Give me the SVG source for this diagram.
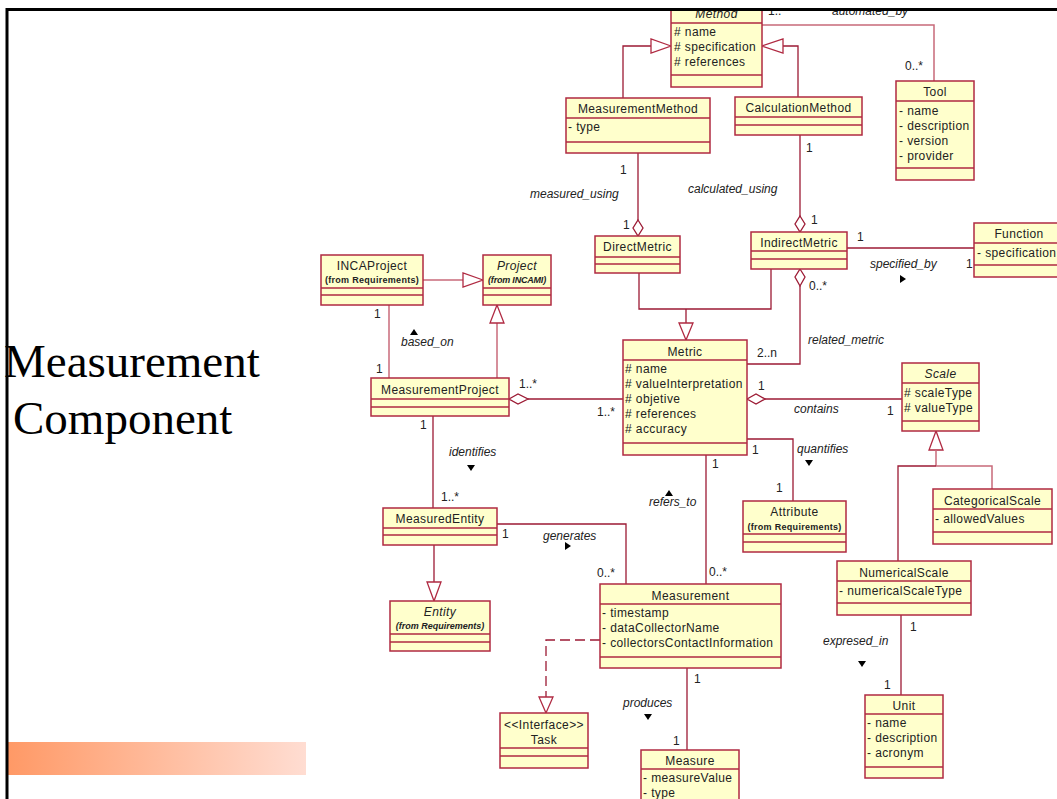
<svg xmlns="http://www.w3.org/2000/svg" width="1057" height="799" viewBox="0 0 1057 799">
  <style>
    .box { fill: #ffffcc; stroke: #b02a42; stroke-width: 1.5; }
    .sep { stroke: #b02a42; stroke-width: 1.5; fill: none; }
    .t { font-family: "Liberation Sans", Arial, sans-serif; font-size: 12px; fill: #222; letter-spacing: 0.4px; }
    .ttl { text-anchor: middle; }
    .it { font-style: italic; }
    .sm { font-size: 9px; font-weight: bold; letter-spacing: 0.3px; }
    .lbl { font-family: "Liberation Sans", Arial, sans-serif; font-size: 12px; font-style: italic; fill: #222; }
    .mul { font-family: "Liberation Sans", Arial, sans-serif; font-size: 12px; fill: #222; }
    .c { fill: none; stroke: #9c1a34; stroke-width: 1.3; }
    .c2 { fill: none; stroke: #c86a7a; stroke-width: 1.5; }
    .dash { stroke-dasharray: 10 5; }
    .gen { fill: #ffffff; stroke: #b02a42; stroke-width: 1.3; }
    .dia { fill: #ffffff; stroke: #9c1a34; stroke-width: 1.3; }
    .dir { fill: #000; }
    .big { font-family: "Liberation Serif", "Times New Roman", serif; font-size: 47px; fill: #000; }
  </style>
  <defs>
    <linearGradient id="bar" x1="0" y1="0" x2="1" y2="0">
      <stop offset="0" stop-color="#ff9966"/>
      <stop offset="1" stop-color="#ffddd2"/>
    </linearGradient>
    <clipPath id="page">
      <rect x="8" y="10" width="1049" height="789"/>
    </clipPath>
    <polygon id="down" points="-4,-3 4,-3 0,3"/>
    <polygon id="up" points="-4,3 4,3 0,-3"/>
    <polygon id="right" points="-3,-4 -3,4 3,0"/>
  </defs>

  <rect x="0" y="0" width="1057" height="799" fill="#ffffff"/>

  <!-- slide title and decoration -->
  <text class="big" x="4" y="377">Measurement</text>
  <text class="big" x="13" y="434">Component</text>
  <rect x="8" y="742" width="298" height="33" fill="url(#bar)"/>

  <g clip-path="url(#page)">
    <!-- connectors -->
    <g id="connectors">
      <!-- automated_by -->
      <path class="c2" d="M762,25 H934 V81"/>
      <text class="mul" x="768" y="15">1..*</text>
      <text class="lbl" x="832" y="15">automated_by</text>
      <text class="mul" x="905" y="70">0..*</text>

      <!-- MeasurementMethod / CalculationMethod generalize Method -->
      <path class="c" d="M623,98 V46 H651"/>
      <polygon class="gen" points="671,46 651,39 651,53"/>
      <path class="c" d="M798,97 V46 H783"/>
      <polygon class="gen" points="762,46 783,39 783,53"/>

      <!-- measured_using -->
      <path class="c" d="M638,153 V220"/>
      <polygon class="dia" points="638,220 643,228 638,236 633,228"/>
      <text class="mul" x="620" y="174">1</text>
      <text class="mul" x="623" y="229">1</text>
      <text class="lbl" x="530" y="198">measured_using</text>

      <!-- calculated_using -->
      <path class="c" d="M800,135 V217"/>
      <polygon class="dia" points="800,216 805,224 800,232 795,224"/>
      <text class="mul" x="806" y="152">1</text>
      <text class="mul" x="811" y="224">1</text>
      <text class="lbl" x="688" y="193">calculated_using</text>

      <!-- specified_by -->
      <path class="c" d="M847,248 H974"/>
      <text class="mul" x="857" y="241">1</text>
      <text class="mul" x="966" y="268">1</text>
      <text class="lbl" x="870" y="268">specified_by</text>
      <use href="#right" class="dir" x="903" y="279"/>

      <!-- DirectMetric / IndirectMetric generalize Metric -->
      <path class="c" d="M639,273 V309 H771 V269"/>
      <path class="c" d="M686,309 V323"/>
      <polygon class="gen" points="686,340 679,323 693,323"/>

      <!-- related_metric -->
      <polygon class="dia" points="800,269 805,277 800,286 795,277"/>
      <path class="c" d="M800,286 V364 H747"/>
      <text class="mul" x="809" y="290">0..*</text>
      <text class="mul" x="757" y="357">2..n</text>
      <text class="lbl" x="808" y="344">related_metric</text>

      <!-- contains -->
      <polygon class="dia" points="747,399 756,394 765,399 756,404"/>
      <path class="c" d="M765,399 H902"/>
      <text class="mul" x="758" y="390">1</text>
      <text class="mul" x="887" y="415">1</text>
      <text class="lbl" x="794" y="413">contains</text>

      <!-- Numerical / Categorical generalize Scale -->
      <polygon class="gen" points="936,431 929,450 943,450"/>
      <path class="c2" d="M936,450 V466"/>
      <path class="c" d="M898,561 V466 H936"/>
      <path class="c2" d="M936,466 H992 V489"/>

      <!-- quantifies -->
      <path class="c" d="M747,439 H793 V501"/>
      <text class="mul" x="752" y="454">1</text>
      <text class="mul" x="776" y="492">1</text>
      <text class="lbl" x="797" y="453">quantifies</text>
      <use href="#down" class="dir" x="809" y="463"/>

      <!-- refers_to -->
      <path class="c" d="M706,455 V584"/>
      <text class="mul" x="712" y="468">1</text>
      <text class="mul" x="709" y="576">0..*</text>
      <text class="lbl" x="649" y="506">refers_to</text>
      <use href="#up" class="dir" x="669" y="493"/>

      <!-- generates -->
      <path class="c" d="M497,524 H626 V584"/>
      <text class="mul" x="502" y="538">1</text>
      <text class="mul" x="597" y="577">0..*</text>
      <text class="lbl" x="543" y="540">generates</text>
      <use href="#right" class="dir" x="568" y="546"/>

      <!-- identifies -->
      <path class="c" d="M433,416 V508"/>
      <text class="mul" x="420" y="429">1</text>
      <text class="mul" x="441" y="501">1..*</text>
      <text class="lbl" x="449" y="456">identifies</text>
      <use href="#down" class="dir" x="471" y="468"/>

      <!-- MeasuredEntity generalizes Entity -->
      <path class="c" d="M434,545 V582"/>
      <polygon class="gen" points="434,601 427,582 441,582"/>

      <!-- MeasurementProject aggregates Metric -->
      <polygon class="dia" points="509,399 518,394 528,399 518,404"/>
      <path class="c" d="M528,399 H623"/>
      <text class="mul" x="519" y="388">1..*</text>
      <text class="mul" x="597" y="416">1..*</text>

      <!-- INCAProject / MeasurementProject generalize Project -->
      <path class="c2" d="M423,280 H463"/>
      <polygon class="gen" points="483,280 463,273 463,287"/>
      <path class="c2" d="M497,378 V323"/>
      <polygon class="gen" points="497,305 490,323 504,323"/>

      <!-- based_on -->
      <path class="c2" d="M389,305 V378"/>
      <text class="mul" x="374" y="318">1</text>
      <text class="mul" x="376" y="373">1</text>
      <text class="lbl" x="401" y="346">based_on</text>
      <use href="#up" class="dir" x="414" y="332"/>

      <!-- Measurement realizes Task -->
      <path class="c dash" d="M600,640 H546 V697"/>
      <polygon class="gen" points="546,713 539,697 553,697"/>

      <!-- produces -->
      <path class="c" d="M687,668 V750"/>
      <text class="mul" x="694" y="683">1</text>
      <text class="mul" x="673" y="745">1</text>
      <text class="lbl" x="623" y="707">produces</text>
      <use href="#down" class="dir" x="648" y="717"/>

      <!-- expresed_in -->
      <path class="c" d="M901,615 V695"/>
      <text class="mul" x="910" y="631">1</text>
      <text class="mul" x="884" y="689">1</text>
      <text class="lbl" x="823" y="645">expresed_in</text>
      <use href="#down" class="dir" x="862" y="664"/>
    </g>

    <!-- classes -->
    <g id="method">
      <rect class="box" x="671" y="3" width="91" height="84"/>
      <path class="sep" d="M671,23 H762 M671,75 H762"/>
      <text class="t ttl it" x="716.5" y="18">Method</text>
      <text class="t" x="674" y="36"># name</text>
      <text class="t" x="674" y="51"># specification</text>
      <text class="t" x="674" y="66"># references</text>
    </g>
    <g id="tool">
      <rect class="box" x="896" y="81" width="78" height="99"/>
      <path class="sep" d="M896,101 H974 M896,168 H974"/>
      <text class="t ttl" x="935" y="96">Tool</text>
      <text class="t" x="899" y="115">- name</text>
      <text class="t" x="899" y="130">- description</text>
      <text class="t" x="899" y="145">- version</text>
      <text class="t" x="899" y="160">- provider</text>
    </g>
    <g id="measurementMethod">
      <rect class="box" x="566" y="98" width="144" height="55"/>
      <path class="sep" d="M566,118 H710 M566,142 H710"/>
      <text class="t ttl" x="638" y="113">MeasurementMethod</text>
      <text class="t" x="568" y="131">- type</text>
    </g>
    <g id="calculationMethod">
      <rect class="box" x="735" y="97" width="127" height="38"/>
      <path class="sep" d="M735,117 H862 M735,125 H862"/>
      <text class="t ttl" x="798.5" y="112">CalculationMethod</text>
    </g>
    <g id="directMetric">
      <rect class="box" x="595" y="236" width="85" height="37"/>
      <path class="sep" d="M595,257 H680 M595,264 H680"/>
      <text class="t ttl" x="637.5" y="251">DirectMetric</text>
    </g>
    <g id="indirectMetric">
      <rect class="box" x="751" y="232" width="96" height="37"/>
      <path class="sep" d="M751,251 H847 M751,259 H847"/>
      <text class="t ttl" x="799" y="247">IndirectMetric</text>
    </g>
    <g id="function">
      <rect class="box" x="974" y="223" width="90" height="54"/>
      <path class="sep" d="M974,243 H1064 M974,265 H1064"/>
      <text class="t ttl" x="1019" y="238">Function</text>
      <text class="t" x="977" y="257">- specification</text>
    </g>
    <g id="incaProject">
      <rect class="box" x="321" y="255" width="102" height="50"/>
      <path class="sep" d="M321,288 H423 M321,295 H423"/>
      <text class="t ttl" x="372" y="270">INCAProject</text>
      <text class="t ttl sm" x="372" y="283">(from Requirements)</text>
    </g>
    <g id="project">
      <rect class="box" x="483" y="255" width="68" height="50"/>
      <path class="sep" d="M483,288 H551 M483,295 H551"/>
      <text class="t ttl it" x="517" y="270">Project</text>
      <text class="t ttl it sm" x="517" y="283" style="letter-spacing:-0.2px">(from INCAMI)</text>
    </g>
    <g id="measurementProject">
      <rect class="box" x="371" y="378" width="138" height="38"/>
      <path class="sep" d="M371,399 H509 M371,407 H509"/>
      <text class="t ttl" x="440" y="394">MeasurementProject</text>
    </g>
    <g id="metric">
      <rect class="box" x="623" y="340" width="124" height="115"/>
      <path class="sep" d="M623,360 H747 M623,443 H747"/>
      <text class="t ttl" x="685" y="356">Metric</text>
      <text class="t" x="625" y="373"># name</text>
      <text class="t" x="625" y="388"># valueInterpretation</text>
      <text class="t" x="625" y="403"># objetive</text>
      <text class="t" x="625" y="418"># references</text>
      <text class="t" x="625" y="433"># accuracy</text>
    </g>
    <g id="scale">
      <rect class="box" x="902" y="363" width="77" height="68"/>
      <path class="sep" d="M902,383 H979 M902,421 H979"/>
      <text class="t ttl it" x="940.5" y="378">Scale</text>
      <text class="t" x="904" y="397"># scaleType</text>
      <text class="t" x="904" y="412"># valueType</text>
    </g>
    <g id="categoricalScale">
      <rect class="box" x="933" y="489" width="119" height="55"/>
      <path class="sep" d="M933,509 H1052 M933,532 H1052"/>
      <text class="t ttl" x="992.5" y="505">CategoricalScale</text>
      <text class="t" x="935" y="523">- allowedValues</text>
    </g>
    <g id="numericalScale">
      <rect class="box" x="837" y="561" width="134" height="54"/>
      <path class="sep" d="M837,581 H971 M837,603 H971"/>
      <text class="t ttl" x="904" y="577">NumericalScale</text>
      <text class="t" x="839" y="595">- numericalScaleType</text>
    </g>
    <g id="unit">
      <rect class="box" x="865" y="695" width="78" height="83"/>
      <path class="sep" d="M865,714 H943 M865,767 H943"/>
      <text class="t ttl" x="904" y="710">Unit</text>
      <text class="t" x="867" y="727">- name</text>
      <text class="t" x="867" y="742">- description</text>
      <text class="t" x="867" y="757">- acronym</text>
    </g>
    <g id="attribute">
      <rect class="box" x="743" y="501" width="103" height="51"/>
      <path class="sep" d="M743,534 H846 M743,542 H846"/>
      <text class="t ttl" x="794.5" y="516">Attribute</text>
      <text class="t ttl sm" x="794.5" y="530">(from Requirements)</text>
    </g>
    <g id="measuredEntity">
      <rect class="box" x="383" y="508" width="114" height="37"/>
      <path class="sep" d="M383,528 H497 M383,535 H497"/>
      <text class="t ttl" x="440" y="523">MeasuredEntity</text>
    </g>
    <g id="entity">
      <rect class="box" x="390" y="601" width="100" height="50"/>
      <path class="sep" d="M390,634 H490 M390,642 H490"/>
      <text class="t ttl it" x="440" y="616">Entity</text>
      <text class="t ttl it sm" x="440" y="629" style="letter-spacing:0px">(from Requirements)</text>
    </g>
    <g id="measurement">
      <rect class="box" x="600" y="584" width="181" height="84"/>
      <path class="sep" d="M600,604 H781 M600,657 H781"/>
      <text class="t ttl" x="690.5" y="600">Measurement</text>
      <text class="t" x="602" y="617">- timestamp</text>
      <text class="t" x="602" y="632">- dataCollectorName</text>
      <text class="t" x="602" y="647">- collectorsContactInformation</text>
    </g>
    <g id="task">
      <rect class="box" x="500" y="713" width="88" height="55"/>
      <path class="sep" d="M500,748 H588 M500,756 H588"/>
      <text class="t ttl" x="544" y="729">&lt;&lt;Interface&gt;&gt;</text>
      <text class="t ttl" x="544" y="744">Task</text>
    </g>
    <g id="measure">
      <rect class="box" x="641" y="750" width="98" height="60"/>
      <path class="sep" d="M641,769 H739"/>
      <text class="t ttl" x="690" y="765">Measure</text>
      <text class="t" x="643" y="782">- measureValue</text>
      <text class="t" x="643" y="797">- type</text>
    </g>
  </g>

  <!-- slide frame -->
  <path d="M7,799 V9.5 H1057" fill="none" stroke="#000" stroke-width="3"/>
</svg>
